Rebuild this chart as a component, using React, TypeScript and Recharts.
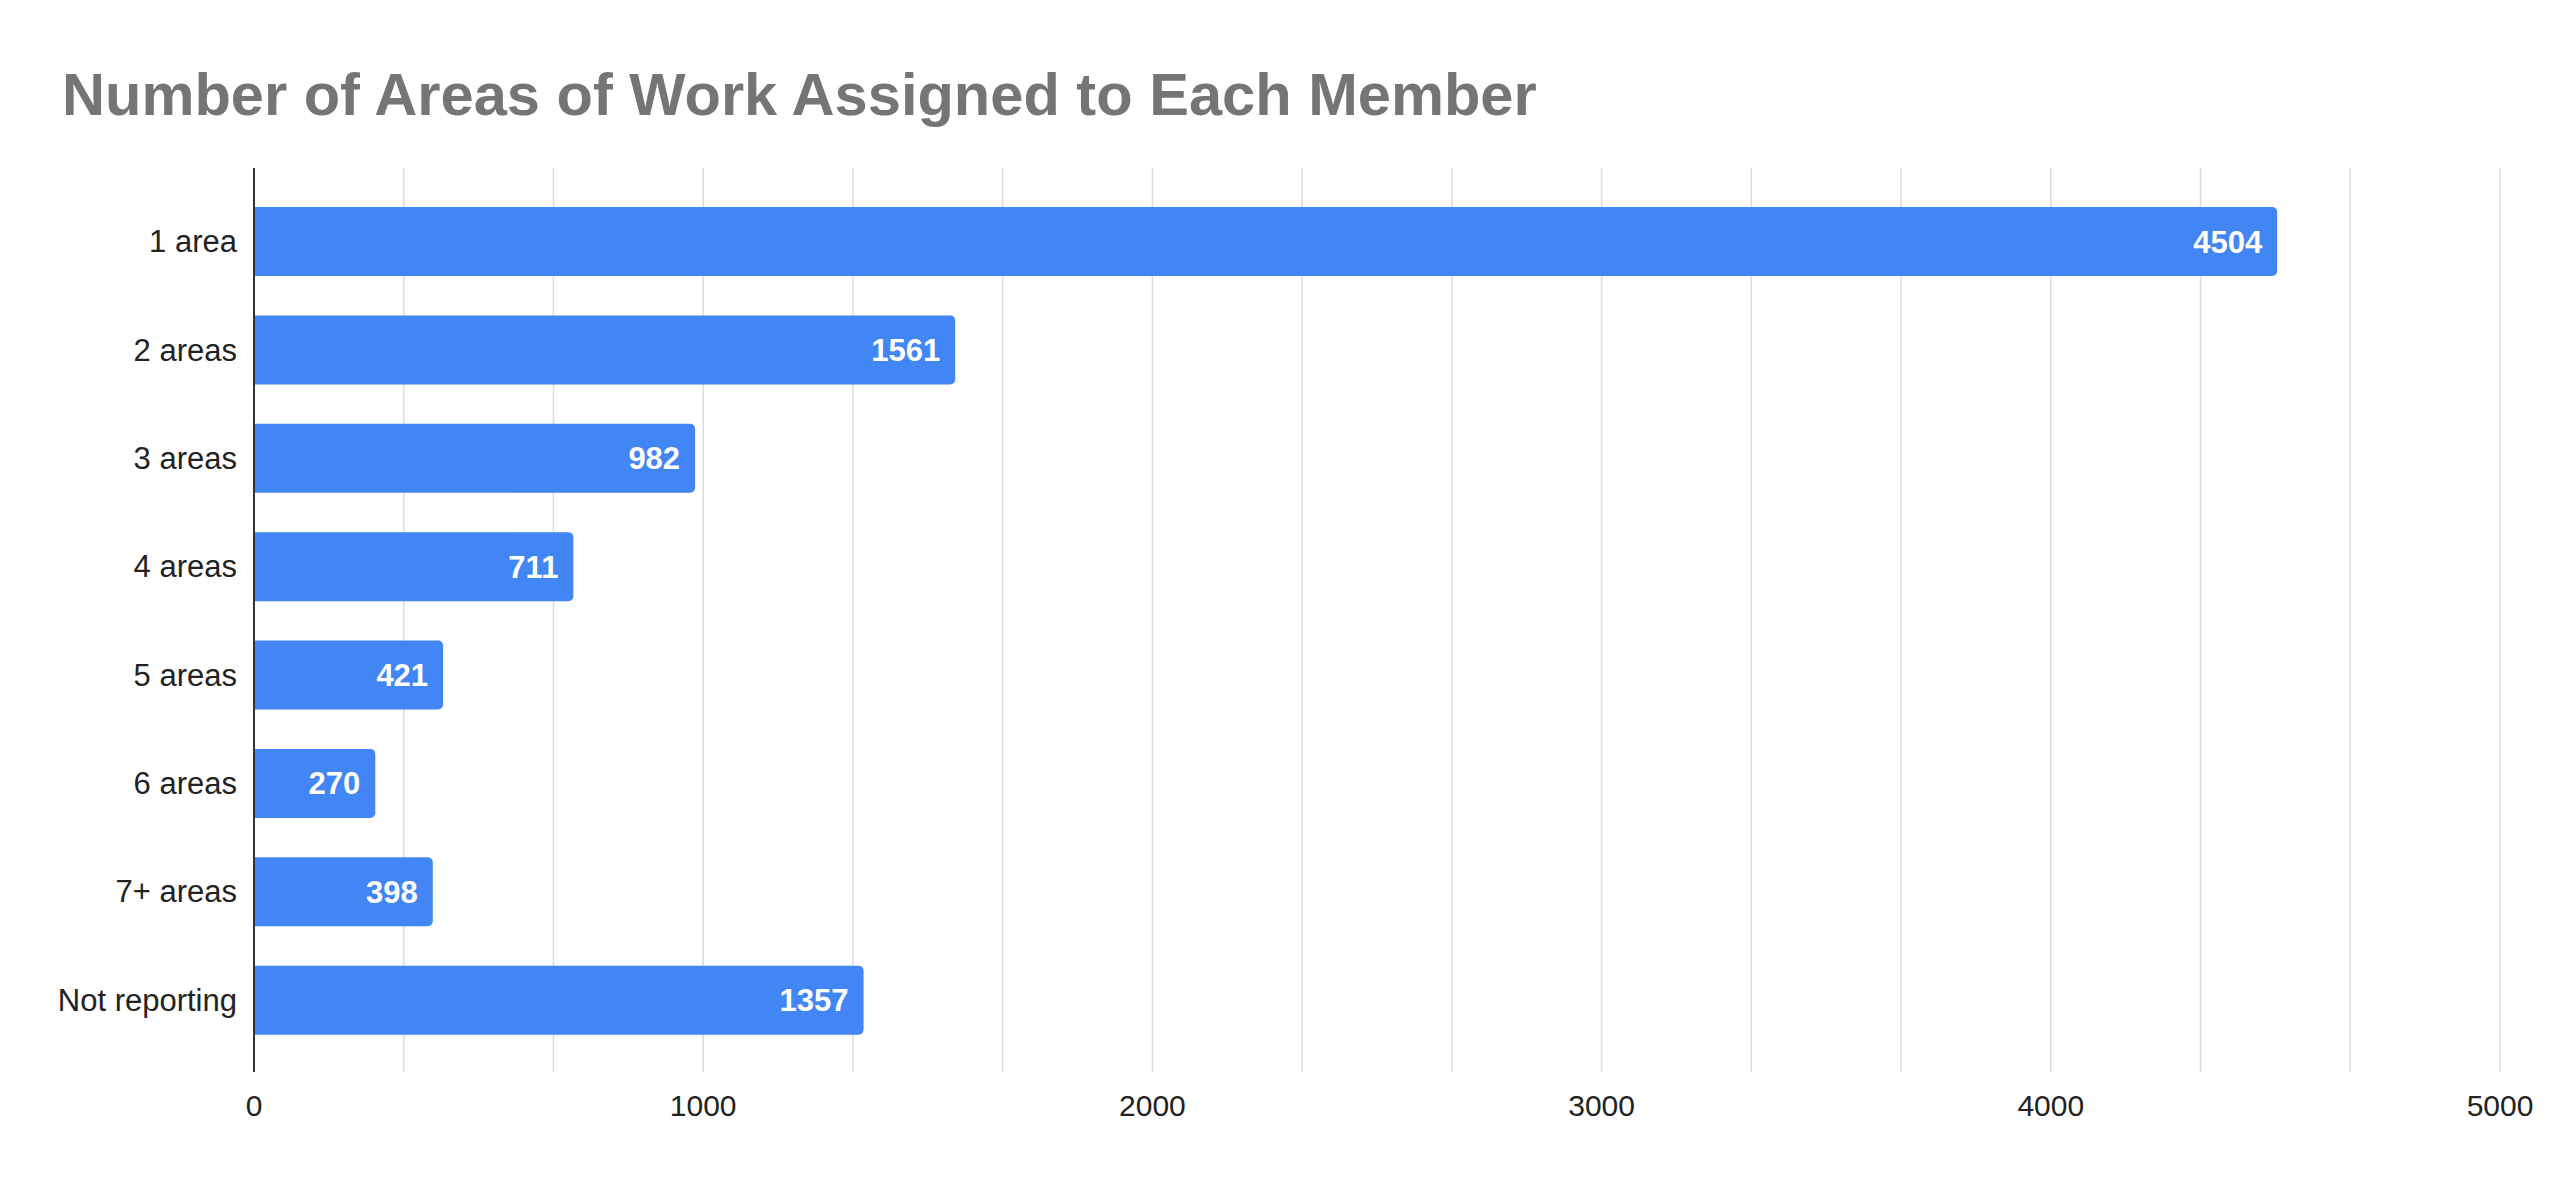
import { BarChart, Bar, XAxis, YAxis, CartesianGrid, LabelList } from 'recharts';

const categories = ['1 area', '2 areas', '3 areas', '4 areas', '5 areas', '6 areas', '7+ areas', 'Not reporting'];
const members = [4504, 1561, 982, 711, 421, 270, 398, 1357];
const gridTicks = [
  0, 333.33, 666.67, 1000, 1333.33, 1666.67, 2000, 2333.33, 2666.67,
  3000, 3333.33, 3666.67, 4000, 4333.33, 4666.67, 5000,
];
const labelTicks = [0, 1000, 2000, 3000, 4000, 5000];

const data = categories.map((name, i) => ({ name, members: members[i] }));

const FONT = '"Liberation Sans", Arial, sans-serif';

export default function App() {
  return (
    <div style={{ position: 'absolute', top: 0, left: 0, width: 2560, height: 1185, background: '#fff', fontFamily: FONT }}>
      <svg width={2560} height={140} style={{ position: 'absolute', top: 0, left: 0 }}>
        <text x={62} y={115} fontSize={59.6} fontWeight="bold" fill="#757575" fontFamily={FONT}>
          Number of Areas of Work Assigned to Each Member
        </text>
      </svg>
      <BarChart
        width={2560}
        height={1185}
        data={data}
        layout="vertical"
        margin={{ top: 168, right: 60, bottom: 0, left: 0 }}
        barSize={69}
      >
        <CartesianGrid horizontal={false} vertical stroke="#dcdcdc" strokeWidth={1.5} />
        <XAxis
          type="number"
          domain={[0, 5000]}
          ticks={gridTicks}
          interval={0}
          tickFormatter={(v: number) => (labelTicks.some((t) => Math.abs(t - v) < 0.5) ? String(Math.round(v)) : '')}
          axisLine={false}
          tickLine={false}
          tickSize={0}
          tickMargin={23}
          height={113}
          tick={{ fontSize: 30, fill: '#222', fontFamily: FONT }}
        />
        <YAxis
          type="category"
          dataKey="name"
          width={254}
          axisLine={{ stroke: '#333', strokeWidth: 2 }}
          tickLine={false}
          tickSize={0}
          tickMargin={17}
          padding={{ top: 19, bottom: 18 }}
          tick={{ fontSize: 31, fill: '#222', fontFamily: FONT }}
          interval={0}
        />
        <Bar dataKey="members" fill="#4285f4" radius={[0, 5, 5, 0]} isAnimationActive={false}>
          <LabelList
            dataKey="members"
            position="insideRight"
            offset={15}
            fill="#fff"
            fontSize={31}
            fontWeight="bold"
            fontFamily={FONT}
          />
        </Bar>
      </BarChart>
    </div>
  );
}
